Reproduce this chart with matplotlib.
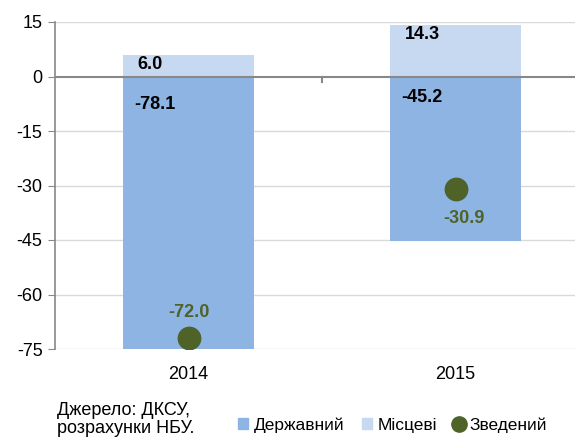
import numpy as np
import matplotlib.pyplot as plt
from matplotlib.patches import Rectangle
from matplotlib.lines import Line2D

plt.rcParams['font.family'] = ['Liberation Sans', 'DejaVu Sans']

years = ["2014", "2015"]
state = [-78.1, -45.2]
local = [6.0, 14.3]
consolidated = [-72.0, -30.9]
yticks = [15, 0, -15, -30, -45, -60, -75]

c_state = "#8EB4E3"
c_local = "#C6D9F1"
c_cons = "#4F6228"
fs = 13

fig = plt.figure(figsize=(5.75, 4.38), dpi=100)
# axes runs a bit past the right edge, as in the original crop
ax = fig.add_axes([55 / 575, 1 - 349 / 438, 534 / 575, 327 / 438])

x = np.arange(len(years))
ax.bar(x, state, width=0.49, color=c_state, zorder=2)
ax.bar(x, local, width=0.49, color=c_local, zorder=2)
ax.scatter(x, consolidated, s=260, color=c_cons, zorder=3)

ax.set_ylim(-75, 15)
ax.set_xlim(-0.5, 1.5)
ax.set_yticks(yticks)
ax.set_yticklabels([str(v) for v in yticks], fontsize=fs)
ax.set_xticks(x)
ax.set_xticklabels(years, fontsize=fs)
ax.tick_params(axis='x', length=0, pad=12)
ax.tick_params(axis='y', length=5, color="#888888", direction='out', pad=4)

for v in yticks:
    if v != 0:
        ax.axhline(v, color="#d9d9d9", lw=1, zorder=1)
ax.axhline(0, color="#888888", lw=1.5, zorder=2.5)
ax.plot([0.5, 0.5], [0, -1.6], color="#888888", lw=1.5, zorder=2.5)

for s in ["top", "right", "bottom"]:
    ax.spines[s].set_visible(False)
ax.spines["left"].set_color("#888888")
ax.spines["left"].set_linewidth(1.2)

# value labels
state_top = [-5.3, -3.5]
for i in range(len(years)):
    ax.text(x[i] - 0.19, local[i] - 0.4, f"{local[i]:.1f}", ha='left', va='top',
            fontsize=fs, fontweight='bold', color="black", zorder=4)
    ax.text(x[i] - 0.205, state_top[i], f"{state[i]:.1f}", ha='left', va='top',
            fontsize=fs, fontweight='bold', color="black", zorder=4)
ax.text(x[0], consolidated[0] + 4.6, f"{consolidated[0]:.1f}", ha='center', va='bottom',
        fontsize=fs, fontweight='bold', color=c_cons, zorder=4)
ax.text(x[1] + 0.03, consolidated[1] - 5.8, f"{consolidated[1]:.1f}", ha='center', va='top',
        fontsize=fs, fontweight='bold', color=c_cons, zorder=4)

fig.text(57 / 575, 1 - 402 / 438, "Джерело: ДКСУ,\nрозрахунки НБУ.", ha='left', va='top',
         fontsize=fs, linespacing=1.05)

handles = [
    Rectangle((0, 0), 1, 1, color=c_state),
    Rectangle((0, 0), 1, 1, color=c_local),
    Line2D([], [], marker='o', ls='none', color=c_cons, markersize=11),
]
leg = fig.legend(handles, ["Державний", "Місцеві", "Зведений"], loc='center left',
                 bbox_to_anchor=(238 / 575, 1 - 425 / 438), ncol=3, frameon=False,
                 fontsize=12.5, handlelength=0.6, handleheight=0.6, handletextpad=0.3,
                 columnspacing=1.0, borderpad=0, borderaxespad=0)

fig.savefig("out.png", dpi=100)
